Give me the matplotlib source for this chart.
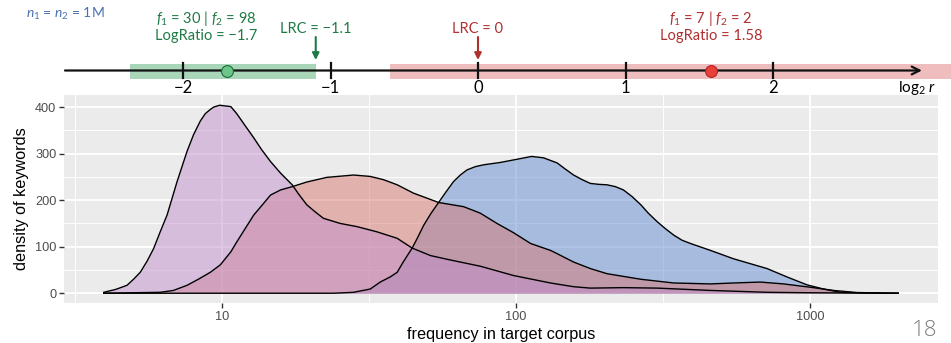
import matplotlib
matplotlib.use("Agg")
import matplotlib.pyplot as plt
import numpy as np

# density curves (frequency in target corpus -> density)
purple_freq = [3.95, 4.33, 4.74, 4.99, 5.26, 5.55, 5.84, 6.15, 6.49, 7.02, 7.59, 7.99, 8.42,
               8.76, 9.11, 9.35, 9.80, 10.4, 10.7, 11.2, 12.0, 12.8, 13.6, 14.6, 15.8, 17.3,
               18.2, 19.4, 20.7, 22.1, 25.2, 28.8, 33.6, 39.4, 44.3, 51.1, 58.2, 75.6, 98.1,
               131, 157, 179, 232, 302, 459, 715, 1000, 2000]
purple_dens = [2, 8, 17, 30, 45, 69, 96, 132, 168, 240, 305, 341, 370,
               386, 395, 400, 404, 402, 401, 386, 359, 334, 309, 283, 258, 233,
               213, 190, 175, 161, 150, 143, 132, 118, 97, 81, 73, 58, 38,
               22, 14, 11, 12, 11, 6, 2, 1, 0]

red_freq = [3.95, 6.16, 6.82, 7.59, 8.29, 9.11, 9.85, 10.7, 11.2, 12.8, 13.7, 14.6, 15.8,
            17.3, 19.4, 22.7, 28.0, 31.9, 35.4, 39.4, 44.8, 54.5, 66.3, 75.6, 86.1, 98.1,
            112, 131, 138, 157, 179, 204, 266, 344, 459, 550, 678, 814, 1000, 1205, 1447, 2000]
red_dens = [0, 2, 6, 17, 30, 45, 61, 89, 110, 168, 190, 211, 222,
            229, 239, 249, 254, 251, 244, 233, 215, 195, 186, 172, 150, 130,
            107, 92, 85, 67, 53, 42, 30, 22, 20, 22, 24, 20, 13, 6, 1.5, 0]

blue_freq = [3.95, 23.9, 28.0, 31.9, 34.5, 37.3, 39.4, 41.3, 44.3, 46.1, 48.5, 51.4, 54.5,
             57.8, 61.3, 64.6, 68.1, 72.7, 77.6, 88.4, 101, 113, 124, 138, 147, 157, 168,
             179, 191, 204, 218, 232, 248, 266, 282, 302, 322, 344, 367, 392, 459, 550,
             715, 836, 978, 1114, 1270, 1565, 2000]
blue_dens = [0, 0, 2, 9, 24, 35, 45, 67, 97, 118, 146, 172, 195,
             218, 240, 254, 265, 272, 276, 281, 288, 294, 291, 280, 267, 254, 244,
             236, 234, 233, 229, 222, 208, 190, 172, 154, 139, 125, 114, 107, 92, 74,
             53, 35, 18, 9, 2, 0.3, 0]

# number line (log2 r)
line_ticks = [-2, -1, 0, 1, 2]
line_tick_labels = ["\u22122", "\u22121", "0", "1", "2"]
green_ci = [-2.36, -1.1]
red_ci = [-0.6, 3.4]
logratios = [-1.7, 1.58]
lrcs = [-1.1, 0]

green = '#1E7B45'
red = '#B03030'

plt.rcParams['mathtext.fontset'] = 'custom'
plt.rcParams['mathtext.rm'] = 'Lato'
plt.rcParams['mathtext.it'] = 'Lato:italic'
slide_font = ['Lato', 'DejaVu Sans']
gg_font = ['Liberation Sans', 'DejaVu Sans']

fig = plt.figure(figsize=(9.51, 3.43), dpi=100)

# ---- bottom: ggplot-like density panel ----
ax = fig.add_axes([64 / 951, 40 / 343, 874 / 951, 208 / 343])
ax.set_facecolor('#EBEBEB')
for s in ax.spines.values():
    s.set_visible(False)

series = [(blue_freq, blue_dens, '#638DD1'),
          (red_freq, red_dens, '#D97973'),
          (purple_freq, purple_dens, '#C191CD')]
for fx, dy, col in series:
    ax.fill_between(fx, dy, 0, color=col, alpha=0.5, linewidth=0, zorder=3)
    ax.plot(fx, dy, color='black', lw=1.0, zorder=4, solid_joinstyle='round')

ax.set_xscale('log')
lmin = np.log10(min(purple_freq))
lmax = np.log10(max(purple_freq))
pad = 0.05 * (lmax - lmin)
ax.set_xlim(10 ** (lmin - pad), 10 ** (lmax + pad))
ax.set_ylim(-21, 426)

ax.set_xticks([10, 100, 1000])
ax.set_xticklabels(['10', '100', '1000'])
ax.set_xticks([10 ** 0.5, 10 ** 1.5, 10 ** 2.5], minor=True)
ax.set_yticks([0, 100, 200, 300, 400])
ax.set_yticks([50, 150, 250, 350], minor=True)
ax.tick_params(which='major', length=3.5, width=1.0, color='#333333',
               labelcolor='#4D4D4D', labelsize=9.2, pad=2)
ax.tick_params(which='minor', length=0)
for lab in ax.get_xticklabels() + ax.get_yticklabels():
    lab.set_family(gg_font)
ax.grid(which='major', color='white', lw=1.3, zorder=0)
ax.grid(which='minor', color='white', lw=0.65, zorder=0)
ax.set_axisbelow(True)
ax.set_xlabel('frequency in target corpus', fontsize=11.7, family=gg_font, labelpad=3)
ax.set_ylabel('density of keywords', fontsize=11.7, family=gg_font, labelpad=4)

# ---- top: log-ratio number line ----
top = fig.add_axes([0, 243 / 343, 1, 100 / 343])
top.set_xlim(-478 / 147.5, 473 / 147.5)
top.set_ylim(100, 0)
top.axis('off')

line_y = 70.5
top.annotate('', xy=(3.01, line_y), xytext=(-2.8, line_y),
             arrowprops=dict(arrowstyle='->', lw=1.6, color='#111111',
                             mutation_scale=14, shrinkA=0, shrinkB=0))
for t in line_ticks:
    top.plot([t, t], [63, 78], color='#111111', lw=1.6)
for t, lab in zip(line_ticks, line_tick_labels):
    top.text(t, 88, lab, ha='center', va='center', fontsize=12, family=slide_font)
top.text(2.98, 88, 'log$_2$ $r$', ha='center', va='center', fontsize=11, family=slide_font)

top.fill_between(green_ci, 64, 79, color='#289852', alpha=0.4, linewidth=0)
top.fill_between(red_ci, 64, 79, color='#D95A5A', alpha=0.4, linewidth=0)

top.plot(logratios[0], line_y, 'o', ms=8.5, mfc='#6CC68A', mec='#1A6E3A', mew=0.8, zorder=5)
top.plot(logratios[1], line_y, 'o', ms=8.5, mfc='#E8413A', mec='#B22222', mew=0.8, zorder=5)

for x, col in zip(lrcs, [green, red]):
    top.annotate('', xy=(x, 60), xytext=(x, 37),
                 arrowprops=dict(arrowstyle='-|>', lw=1.5, color=col,
                                 mutation_scale=10, shrinkA=0, shrinkB=0))
top.text(lrcs[0], 29, 'LRC = \u22121.1', ha='center', va='center', color=green,
         fontsize=10.5, family=slide_font)
top.text(lrcs[1], 29, 'LRC = 0', ha='center', va='center', color=red,
         fontsize=10.5, family=slide_font)

top.text(-1.844, 19, '$f_1$ = 30 | $f_2$ = 98', ha='center', va='center', color=green,
         fontsize=10.5, family=slide_font)
top.text(-1.844, 36, 'LogRatio = \u22121.7', ha='center', va='center', color=green,
         fontsize=10.5, family=slide_font)
top.text(1.58, 19, '$f_1$ = 7 | $f_2$ = 2', ha='center', va='center', color=red,
         fontsize=10.5, family=slide_font)
top.text(1.58, 36, 'LogRatio = 1.58', ha='center', va='center', color=red,
         fontsize=10.5, family=slide_font)
top.text(-2.8, 14, '$n_1$ = $n_2$ = 1M', ha='center', va='center', color='#4A72B0',
         fontsize=10, family=slide_font)

fig.text(925 / 951, 1 - 330 / 343, '18', ha='center', va='center', color='#7F7F7F',
         fontsize=16, family=['Open Sans', 'DejaVu Sans'], fontweight='light')

fig.savefig('out.png', dpi=100)
